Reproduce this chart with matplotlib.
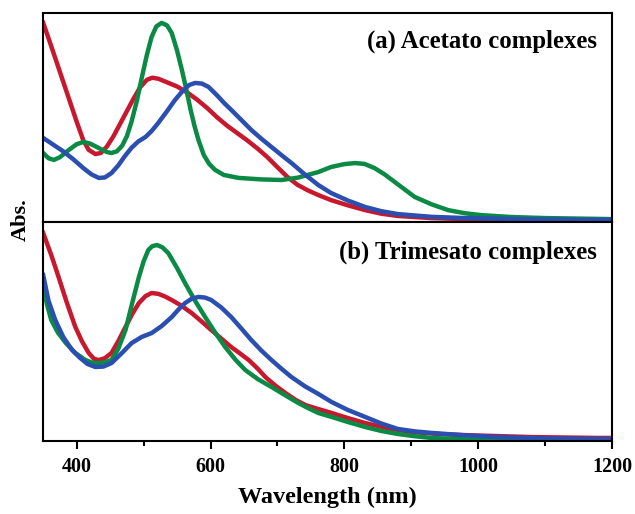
import matplotlib.pyplot as plt
from matplotlib.ticker import MultipleLocator

plt.rcParams['font.family'] = ['Liberation Serif', 'DejaVu Serif']
plt.rcParams['font.weight'] = 'bold'

# (a) Acetato complexes
a_red_x = [350, 360, 370, 380, 390, 400, 410, 418, 428, 436, 445, 455, 465, 475,
           485, 495, 505, 513, 522, 535, 550, 565, 580, 595, 610, 625, 640, 655,
           670, 685, 700, 715, 730, 745, 761, 780, 805, 831, 855, 880, 930, 980,
           1100, 1200]
a_red_y = [0.952, 0.860, 0.765, 0.670, 0.575, 0.480, 0.390, 0.345, 0.325, 0.330,
           0.360, 0.410, 0.470, 0.530, 0.590, 0.645, 0.680, 0.690, 0.685, 0.668,
           0.648, 0.620, 0.585, 0.545, 0.500, 0.460, 0.425, 0.390, 0.352, 0.310,
           0.262, 0.215, 0.178, 0.152, 0.129, 0.105, 0.080, 0.057, 0.040, 0.029,
           0.019, 0.014, 0.010, 0.010]

a_blue_x = [350, 365, 380, 395, 410, 422, 433, 442, 452, 462, 472, 482, 492, 503,
            512, 522, 535, 547, 558, 568, 577, 587, 597, 610, 620, 631, 646, 661,
            676, 691, 706, 721, 740, 761, 780, 805, 831, 855, 880, 930, 980, 1100,
            1200]
a_blue_y = [0.402, 0.370, 0.338, 0.300, 0.258, 0.228, 0.211, 0.213, 0.234, 0.270,
            0.315, 0.355, 0.385, 0.407, 0.435, 0.474, 0.530, 0.584, 0.625, 0.655,
            0.665, 0.662, 0.646, 0.605, 0.570, 0.536, 0.488, 0.440, 0.398, 0.359,
            0.320, 0.282, 0.230, 0.177, 0.139, 0.103, 0.072, 0.052, 0.038, 0.025,
            0.019, 0.012, 0.010]

a_green_x = [350, 358, 366, 375, 388, 400, 410, 420, 433, 445, 452, 460, 468, 475,
             482, 490, 498, 505, 512, 519, 527, 535, 542, 550, 557, 563, 570, 576,
             582, 590, 598, 607, 620, 642, 675, 706, 730, 761, 780, 800, 816, 830,
             845, 860, 880, 905, 930, 955, 980, 1005, 1050, 1100, 1200]
a_green_y = [0.330, 0.305, 0.297, 0.310, 0.344, 0.372, 0.383, 0.375, 0.354, 0.335,
             0.330, 0.338, 0.365, 0.410, 0.480, 0.580, 0.700, 0.800, 0.885, 0.935,
             0.952, 0.940, 0.904, 0.820, 0.730, 0.646, 0.540, 0.460, 0.392, 0.320,
             0.278, 0.249, 0.225, 0.211, 0.204, 0.201, 0.212, 0.239, 0.263, 0.277,
             0.282, 0.278, 0.258, 0.228, 0.180, 0.120, 0.085, 0.057, 0.042, 0.033,
             0.024, 0.019, 0.014]

# (b) Trimesato complexes
b_red_x = [350, 362, 373, 385, 398, 408, 418, 426, 433, 442, 452, 462, 473, 483,
           493, 503, 512, 522, 532, 542, 557, 572, 587, 601, 616, 631, 644, 657,
           670, 682, 697, 712, 727, 742, 761, 781, 805, 831, 865, 900, 940, 980,
           1079, 1179, 1200]
b_red_y = [0.950, 0.850, 0.749, 0.635, 0.521, 0.455, 0.402, 0.375, 0.370, 0.378,
           0.402, 0.455, 0.521, 0.580, 0.630, 0.662, 0.676, 0.672, 0.660, 0.644,
           0.617, 0.584, 0.545, 0.507, 0.468, 0.429, 0.400, 0.370, 0.332, 0.292,
           0.253, 0.219, 0.188, 0.164, 0.146, 0.128, 0.105, 0.082, 0.058, 0.041,
           0.032, 0.027, 0.018, 0.014, 0.014]

b_blue_x = [350, 358, 368, 380, 393, 405, 416, 428, 440, 452, 467, 482, 497, 512,
            527, 542, 552, 562, 572, 582, 592, 601, 616, 631, 646, 661, 676, 691,
            706, 721, 741, 761, 781, 805, 831, 855, 880, 905, 930, 980, 1030, 1100,
            1200]
b_blue_y = [0.758, 0.640, 0.553, 0.475, 0.416, 0.380, 0.352, 0.338, 0.340, 0.356,
            0.400, 0.447, 0.475, 0.493, 0.525, 0.566, 0.600, 0.630, 0.650, 0.658,
            0.655, 0.644, 0.610, 0.566, 0.514, 0.461, 0.413, 0.370, 0.330, 0.292,
            0.250, 0.215, 0.178, 0.142, 0.110, 0.080, 0.055, 0.044, 0.037, 0.026,
            0.018, 0.012, 0.009]

b_green_x = [350, 356, 362, 372, 384, 398, 413, 423, 433, 443, 452, 462, 473, 483,
             493, 500, 507, 513, 520, 528, 537, 550, 562, 577, 592, 607, 622, 637,
             652, 671, 691, 711, 731, 746, 761, 781, 805, 831, 855, 880, 905, 930,
             1000, 1200]
b_green_y = [0.703, 0.620, 0.553, 0.495, 0.447, 0.402, 0.370, 0.358, 0.356, 0.360,
             0.370, 0.420, 0.507, 0.630, 0.749, 0.820, 0.872, 0.890, 0.895, 0.885,
             0.858, 0.790, 0.721, 0.640, 0.566, 0.495, 0.429, 0.372, 0.324, 0.282,
             0.247, 0.210, 0.174, 0.150, 0.128, 0.110, 0.087, 0.064, 0.046, 0.032,
             0.022, 0.014, 0.005, 0.005]

red = '#c8182e'
green = '#0a8a45'
blue = '#2a4fb0'

fig = plt.figure(figsize=(6.35, 5.14), dpi=100)
ax1 = fig.add_axes([0.068, 0.568, 0.896, 0.407])
ax2 = fig.add_axes([0.068, 0.142, 0.896, 0.426], sharex=ax1)

ax1.plot(a_red_x, a_red_y, color=red, lw=3.2, solid_joinstyle='round')
ax1.plot(a_green_x, a_green_y, color=green, lw=3.2, solid_joinstyle='round')
ax1.plot(a_blue_x, a_blue_y, color=blue, lw=3.2, solid_joinstyle='round')

ax2.plot(b_red_x, b_red_y, color=red, lw=3.2, solid_joinstyle='round')
ax2.plot(b_green_x, b_green_y, color=green, lw=3.2, solid_joinstyle='round')
ax2.plot(b_blue_x, b_blue_y, color=blue, lw=3.2, solid_joinstyle='round')

for ax in (ax1, ax2):
    ax.set_xlim(350, 1200)
    ax.set_ylim(0, 1)
    ax.set_yticks([])
    for s in ax.spines.values():
        s.set_linewidth(1.5)

ax1.tick_params(axis='x', which='both', bottom=False, labelbottom=False)
ax2.xaxis.set_major_locator(MultipleLocator(200))
ax2.xaxis.set_minor_locator(MultipleLocator(100))
ax2.tick_params(axis='x', which='major', direction='out', length=5.5, width=1.5,
                labelsize=14.5, pad=6)
ax2.tick_params(axis='x', which='minor', direction='out', length=3.5, width=1.5)

ax1.text(0.974, 0.862, '(a) Acetato complexes', transform=ax1.transAxes,
         ha='right', va='center', fontsize=17.8, fontweight='bold')
ax2.text(0.974, 0.86, '(b) Trimesato complexes', transform=ax2.transAxes,
         ha='right', va='center', fontsize=17.8, fontweight='bold')

ax2.set_xlabel('Wavelength (nm)', fontsize=17.5, fontweight='bold', labelpad=7)
fig.text(0.032, 0.572, 'Abs.', rotation=90, ha='center', va='center',
         fontsize=16, fontweight='bold')

fig.savefig('out.png', dpi=100)
